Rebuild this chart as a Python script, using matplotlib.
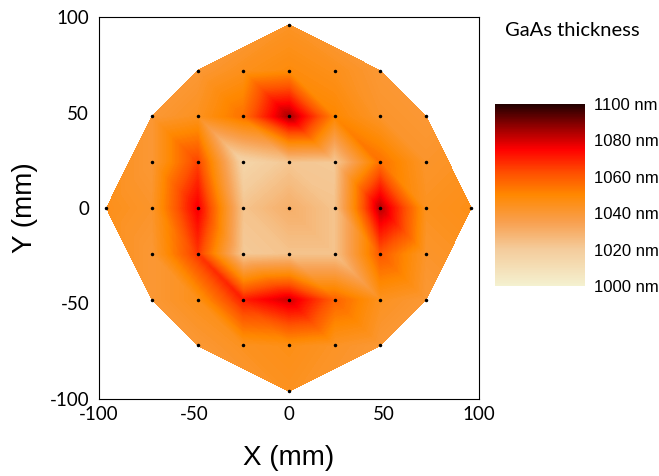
import numpy as np
import matplotlib.pyplot as plt
import matplotlib.tri as mtri
from matplotlib.colors import LinearSegmentedColormap

plt.rcParams["axes.unicode_minus"] = False

# measurement grid (mm), row by row from top to bottom
row_y = [96, 72, 48, 24, 0, -24, -48, -72, -96]
row_x = [
    [0],
    [-48, -24, 0, 24, 48],
    [-72, -48, -24, 0, 24, 48, 72],
    [-72, -48, -24, 0, 24, 48, 72],
    [-96, -72, -48, -24, 0, 24, 48, 72, 96],
    [-72, -48, -24, 0, 24, 48, 72],
    [-72, -48, -24, 0, 24, 48, 72],
    [-48, -24, 0, 24, 48],
    [0],
]
# GaAs thickness (nm)
row_t = [
    [1043],
    [1040, 1045, 1048, 1045, 1040],
    [1040, 1044, 1055, 1085, 1050, 1042, 1040],
    [1040, 1064, 1015, 1022, 1021, 1055, 1042],
    [1045, 1042, 1076, 1023, 1030, 1023, 1083, 1044, 1046],
    [1040, 1066, 1021, 1023, 1023, 1060, 1042],
    [1040, 1045, 1070, 1080, 1058, 1044, 1040],
    [1040, 1044, 1046, 1043, 1040],
    [1044],
]

x = np.array([v for r in row_x for v in r], dtype=float)
y = np.array([yy for yy, r in zip(row_y, row_x) for _ in r], dtype=float)
t = np.array([v for r in row_t for v in r], dtype=float)

# triangulation: every full grid cell is cut along its "\" diagonal,
# the rim is filled from the Delaunay triangles
step = 24
idx = {(int(a), int(b)): i for i, (a, b) in enumerate(zip(x, y))}
full = set()
tris = []
for (a, b) in idx:
    tl, bl = (a, b + step), (a, b)
    br, tr = (a + step, b), (a + step, b + step)
    if all(p in idx for p in (tl, bl, br, tr)):
        full.add((a, b))
        tris.append([idx[tl], idx[bl], idx[br]])
        tris.append([idx[tl], idx[br], idx[tr]])
for tri_ in mtri.Triangulation(x, y).triangles:
    xs, ys = x[tri_], y[tri_]
    if (np.ptp(xs) == step and np.ptp(ys) == step
            and (int(xs.min()), int(ys.min())) in full):
        continue
    tris.append(list(tri_))
tri = mtri.Triangulation(x, y, np.array(tris))

cmap = LinearSegmentedColormap.from_list("gaas", [
    (0.0, "#f4f1d0"),
    (0.2, "#f4cc9c"),
    (0.35, "#f8a050"),
    (0.5, "#ff8800"),
    (0.62, "#ff5000"),
    (0.75, "#ff0000"),
    (0.87, "#990000"),
    (1.0, "#200000"),
])

fig = plt.figure(figsize=(6.59, 4.76), dpi=100)
ax = fig.add_axes([0.150, 0.162, 0.577, 0.802])

ax.tricontourf(tri, t, levels=np.linspace(1000, 1100, 201), cmap=cmap,
               vmin=1000, vmax=1100)
ax.plot(x, y, "k.", markersize=3)

ax.set_xlim(-100, 100)
ax.set_ylim(-100, 100)
ax.set_xticks([-100, -50, 0, 50, 100])
ax.set_yticks([-100, -50, 0, 50, 100])
ax.tick_params(length=0, labelsize=13.5)
ax.tick_params(axis="y", pad=7)
ax.tick_params(axis="x", pad=5)
for lab in ax.get_xticklabels() + ax.get_yticklabels():
    lab.set_fontfamily("Lato")
ax.set_xlabel("X (mm)", fontsize=20, family="Liberation Sans", labelpad=16)
ax.set_ylabel("Y (mm)", fontsize=20, family="Liberation Sans", labelpad=8)

cax = fig.add_axes([0.751, 0.399, 0.137, 0.383])
sm = plt.cm.ScalarMappable(cmap=cmap, norm=plt.Normalize(1000, 1100))
cb = fig.colorbar(sm, cax=cax)
cb.outline.set_visible(False)
cb.set_ticks([1000, 1020, 1040, 1060, 1080, 1100])
cb.set_ticklabels([f"{v} nm" for v in [1000, 1020, 1040, 1060, 1080, 1100]])
cax.tick_params(length=0, labelsize=12, pad=6)
for lab in cax.get_yticklabels():
    lab.set_fontfamily("Liberation Sans")

fig.text(0.767, 0.936, "GaAs thickness", fontsize=14.5, family="Lato", va="center")

plt.savefig("out.png", dpi=100)
